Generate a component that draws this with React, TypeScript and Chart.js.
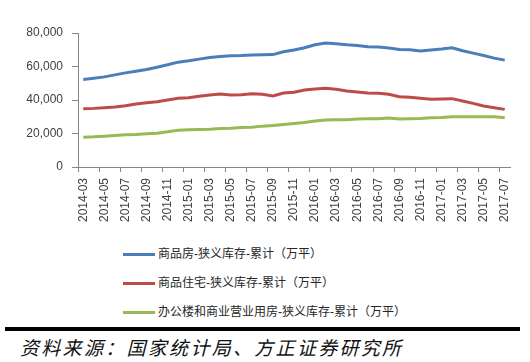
import React, { useEffect, useRef } from 'react';
import { Chart, registerables } from 'chart.js';

Chart.register(...registerables);

const categories = [
  '2014-03', '2014-04', '2014-05', '2014-06', '2014-07', '2014-08', '2014-09', '2014-10', '2014-11', '2014-12',
  '2015-01', '2015-02', '2015-03', '2015-04', '2015-05', '2015-06', '2015-07', '2015-08', '2015-09', '2015-10',
  '2015-11', '2015-12', '2016-01', '2016-02', '2016-03', '2016-04', '2016-05', '2016-06', '2016-07', '2016-08',
  '2016-09', '2016-10', '2016-11', '2016-12', '2017-01', '2017-02', '2017-03', '2017-04', '2017-05', '2017-06',
  '2017-07',
];

const commercialHousing = [
  52300, 53000, 53800, 55000, 56200, 57200, 58200, 59600, 61000, 62600,
  63400, 64400, 65400, 66000, 66400, 66500, 66800, 67000, 67100, 68800,
  69800, 71200, 73000, 74000, 73600, 73000, 72600, 71800, 71600, 71000,
  70200, 70000, 69200, 69800, 70400, 71200, 69400, 68000, 66600, 65000,
  63800,
];

const residential = [
  34800, 35000, 35400, 35800, 36600, 37600, 38400, 39000, 40000, 41000,
  41400, 42200, 43000, 43600, 43000, 43200, 43800, 43400, 42400, 44200,
  44600, 46000, 46600, 47000, 46400, 45400, 44800, 44200, 44000, 43400,
  42000, 41600, 41000, 40400, 40600, 40800, 39400, 38000, 36400, 35400,
  34400,
];

const officeRetail = [
  17800, 18000, 18400, 18800, 19200, 19400, 19800, 20200, 21000, 22000,
  22200, 22400, 22600, 23000, 23200, 23600, 23800, 24400, 24800, 25400,
  26000, 26600, 27400, 28000, 28200, 28200, 28600, 28800, 28800, 29200,
  28600, 28800, 29000, 29400, 29600, 30000, 30000, 30000, 30000, 30000,
  29400,
];

const seriesNames = [
  '商品房-狭义库存-累计（万平）',
  '商品住宅-狭义库存-累计（万平）',
  '办公楼和商业营业用房-狭义库存-累计（万平）',
];
const seriesColors = ['#4A7EBB', '#BE4B48', '#98B954'];
const yTicks = [0, 20000, 40000, 60000, 80000];
const sourceNote = '资料来源：国家统计局、方正证券研究所';

const AXIS_GRAY = '#868686';
const TEXT_GRAY = '#404040';

export default function App() {
  const canvasRef = useRef<HTMLCanvasElement | null>(null);

  useEffect(() => {
    const canvas = canvasRef.current;
    if (!canvas) return;
    Chart.defaults.font.family = "'Liberation Sans', Arial, 'Noto Sans CJK SC', sans-serif";
    const seriesValues = [commercialHousing, residential, officeRetail];
    const chart = new Chart(canvas, {
      type: 'line',
      data: {
        labels: categories,
        datasets: seriesValues.map((vals, k) => ({
          label: seriesNames[k],
          data: vals,
          borderColor: seriesColors[k],
          backgroundColor: seriesColors[k],
          borderWidth: 3,
          pointRadius: 0,
          pointHoverRadius: 0,
          tension: 0,
          fill: false,
        })),
      },
      options: {
        responsive: false,
        animation: false,
        events: [],
        layout: { padding: { left: 0, top: 33, right: 20, bottom: 0 } },
        plugins: {
          legend: { display: false },
          tooltip: { enabled: false },
          title: { display: false },
        },
        scales: {
          x: {
            type: 'category',
            offset: true,
            grid: {
              offset: true,
              drawOnChartArea: false,
              drawTicks: true,
              tickLength: 5,
              tickColor: (ctx: any) =>
                ctx.index !== undefined && ctx.index % 2 === 0 ? AXIS_GRAY : 'rgba(0,0,0,0)',
            },
            border: { color: AXIS_GRAY, width: 1 },
            ticks: {
              autoSkip: false,
              minRotation: 90,
              maxRotation: 90,
              padding: 6,
              color: TEXT_GRAY,
              font: { size: 12 },
              callback: (_v: any, i: number) => (i % 2 === 0 ? categories[i] : ''),
            },
            afterFit: (s: any) => {
              s.height = 73;
            },
          },
          y: {
            min: 0,
            max: 80000,
            afterBuildTicks: (s: any) => {
              s.ticks = yTicks.map((v) => ({ value: v }));
            },
            grid: {
              drawOnChartArea: false,
              tickLength: 6,
              tickColor: AXIS_GRAY,
            },
            border: { color: AXIS_GRAY, width: 1 },
            ticks: {
              padding: 9,
              color: TEXT_GRAY,
              font: { size: 12 },
              callback: (v: any) => Number(v).toLocaleString('en-US'),
            },
            afterFit: (s: any) => {
              s.width = 78;
            },
          },
        },
      },
    } as any);
    return () => chart.destroy();
  }, []);

  const legendTops = [254, 283, 312];

  return (
    <div
      style={{
        position: 'absolute',
        left: 0,
        top: 0,
        width: 530,
        height: 362,
        background: '#fff',
        overflow: 'hidden',
      }}
    >
      <canvas
        ref={canvasRef}
        width={530}
        height={240}
        style={{ position: 'absolute', left: 0, top: 0, width: 530, height: 240 }}
      />
      {seriesNames.map((name, k) => (
        <div
          key={name}
          style={{
            position: 'absolute',
            left: 123,
            top: legendTops[k] - 8,
            height: 16,
            display: 'flex',
            alignItems: 'center',
            whiteSpace: 'nowrap',
          }}
        >
          <span
            style={{
              display: 'inline-block',
              width: 32,
              height: 3,
              background: seriesColors[k],
              marginRight: 3,
            }}
          />
          <span
            style={{
              fontFamily: "'Liberation Sans', Arial, 'Noto Sans CJK SC', sans-serif",
              fontSize: 12,
              color: '#262626',
              lineHeight: '16px',
            }}
          >
            {name}
          </span>
        </div>
      ))}
      <div
        style={{
          position: 'absolute',
          left: 5,
          top: 327,
          width: 515,
          height: 4,
          background: '#000',
        }}
      />
      <div
        style={{
          position: 'absolute',
          left: 20,
          top: 335,
          fontFamily: "'Noto Sans CJK SC', sans-serif",
          fontStyle: 'italic',
          fontSize: 19,
          letterSpacing: 2.3,
          lineHeight: '24px',
          color: '#111',
          whiteSpace: 'nowrap',
        }}
      >
        {sourceNote}
      </div>
    </div>
  );
}
